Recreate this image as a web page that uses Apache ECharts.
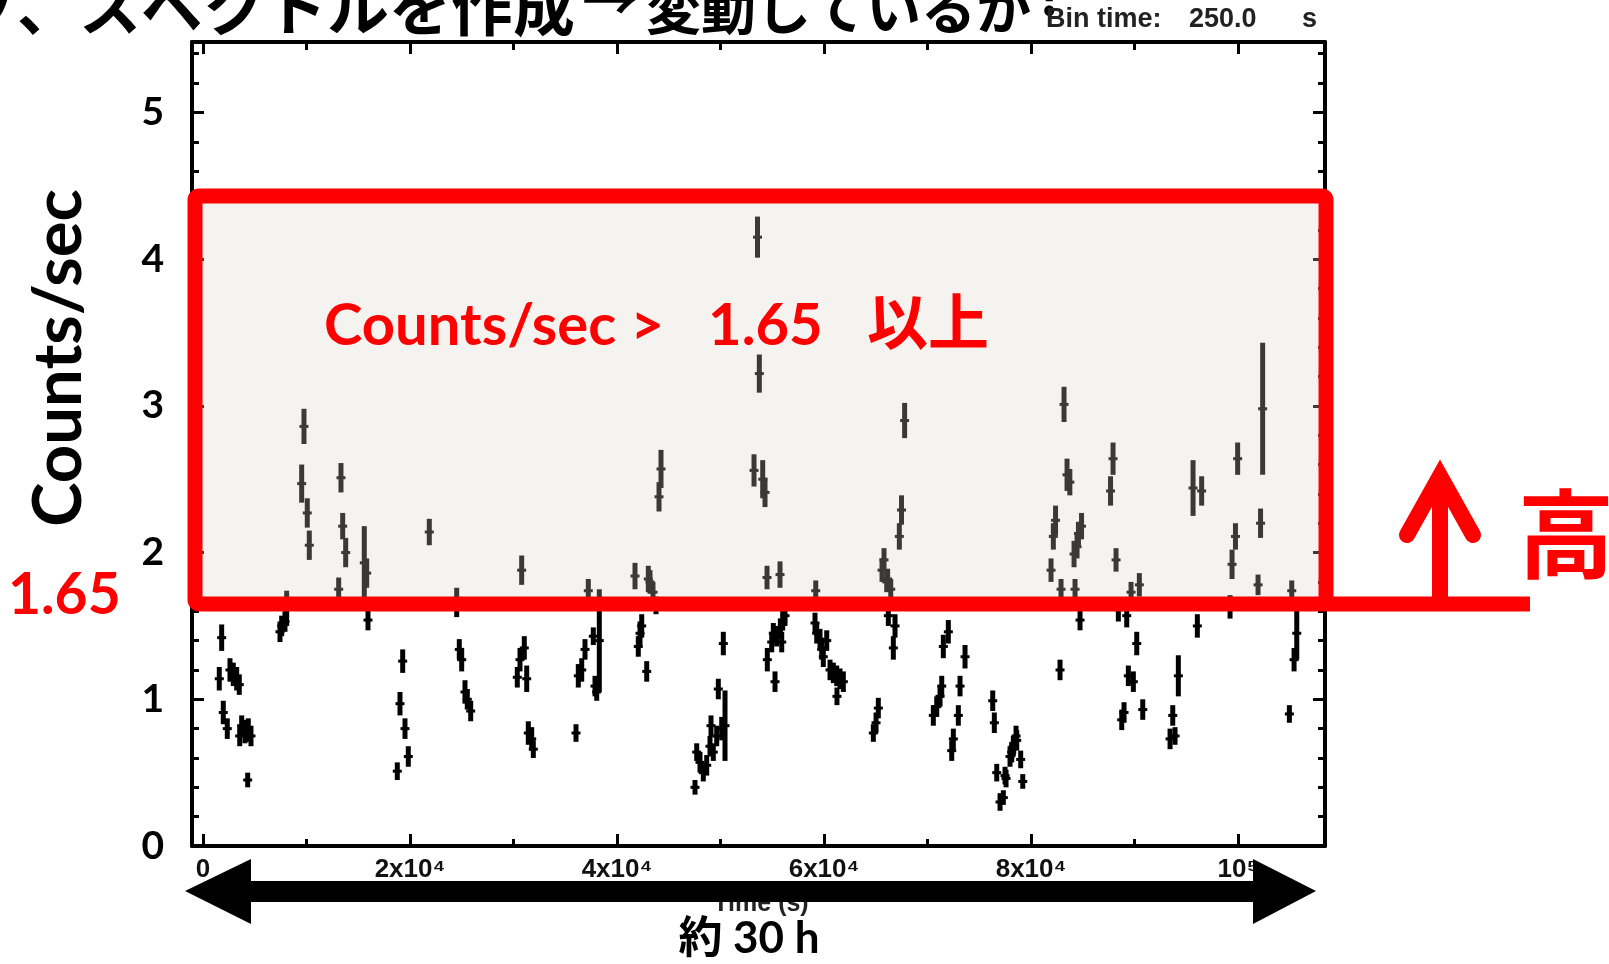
<!DOCTYPE html>
<html><head><meta charset="utf-8">
<script src="https://cdn.jsdelivr.net/npm/echarts@6/dist/echarts.min.js"></script>
<style>html,body{margin:0;padding:0;background:#fff}#c{width:1609px;height:964px}</style>
</head><body><div id="c"></div><script>
// ---- data ----
const TIME = [1575,1807,1961,2348,2609,2928,3256,3507,3550,3739,4058,4319,4377,4638,
7440,7604,7923,8087,9536,9759,10077,10271,13111,13333,13498,13788,15585,15817,15943,
18773,19034,19295,19517,19836,21865,24512,24763,24995,25314,25536,25865,
30367,30628,30790,31044,31276,31430,31759,31914,
36039,36261,36590,36908,37227,37710,37874,38039,38290,
41739,42058,42222,42387,42870,43025,43188,43478,43768,44058,44251,
47536,47700,48019,48338,48666,48985,49082,49304,49633,49788,50116,50271,50435,
53237,53575,53749,54078,54300,54493,54522,54947,55102,55266,55430,55749,55780,55913,56010,56232,
59130,59200,59294,59613,59778,59932,60261,60580,60899,61227,61250,61546,61865,
64764,65025,65246,65604,65797,66058,66145,66213,66445,66696,66860,67276,67488,67787,
70560,70889,71208,71372,71527,72010,72338,72493,72976,73140,73623,
76300,76454,76686,77005,77324,77488,77585,77971,78135,78290,78550,78618,79000,79200,
81932,82155,82368,82802,82899,83188,83478,83749,84155,84251,84445,84580,84734,84879,
87682,87923,88213,88435,88763,88985,89246,89401,89662,89884,90213,90464,90793,
93430,93691,93913,94232,95652,96068,96483,
99227,99420,99749,99962,101932,102174,102377,
104957,105188,105411,105672];
const RATE = [1.14,1.42,0.91,0.80,1.20,1.17,1.14,1.10,0.75,0.82,0.78,0.45,0.79,0.75,
1.46,1.50,1.53,1.62,2.47,2.86,2.27,2.05,1.75,2.51,2.18,2.00,1.93,1.86,1.54,
0.51,0.97,1.26,0.80,0.61,2.14,1.66,1.34,1.27,1.05,1.00,0.92,
1.15,1.27,1.88,1.35,1.14,0.77,0.73,0.66,
0.77,1.16,1.20,1.34,1.74,1.43,1.09,1.05,1.40,
1.84,1.36,1.45,1.50,1.19,1.82,1.80,1.73,1.64,2.38,2.57,
0.40,0.64,0.57,0.50,0.55,0.68,0.82,0.64,0.75,1.07,0.80,1.38,0.82,
2.56,4.15,3.22,2.50,2.41,1.83,1.27,1.39,1.45,1.12,1.43,1.85,1.48,1.39,1.54,1.57,
1.52,1.74,1.45,1.41,1.34,1.29,1.40,1.20,1.18,1.16,1.02,1.14,1.12,
0.77,0.84,0.94,1.88,1.95,1.80,1.82,1.57,1.75,1.35,1.50,2.11,2.29,2.90,
0.89,0.95,1.02,1.09,1.36,1.46,0.65,0.73,0.89,1.09,1.29,
0.99,0.84,0.50,0.30,0.33,0.48,0.46,0.61,0.64,0.68,0.75,0.72,0.59,0.44,
1.88,2.11,2.22,1.20,1.75,3.01,2.53,2.48,1.99,1.75,2.04,2.13,1.54,2.18,
2.42,2.64,1.95,1.61,0.86,0.91,1.57,1.16,1.73,1.12,1.38,1.78,0.93,
0.73,0.89,0.75,1.16,2.44,1.50,2.42,
1.63,1.92,2.11,2.64,1.78,2.20,2.98,
0.90,1.74,1.27,1.45];
const ERR = [0.08,0.09,0.08,0.07,0.08,0.08,0.08,0.07,0.07,0.07,0.08,0.05,0.08,0.07,
0.07,0.07,0.07,0.12,0.13,0.12,0.10,0.10,0.08,0.10,0.09,0.10,0.25,0.10,0.07,
0.06,0.08,0.08,0.07,0.07,0.09,0.10,0.07,0.08,0.08,0.07,0.07,
0.07,0.08,0.10,0.08,0.09,0.08,0.08,0.06,
0.06,0.08,0.08,0.07,0.08,0.06,0.07,0.06,0.35,
0.09,0.07,0.08,0.08,0.07,0.09,0.08,0.07,0.06,0.10,0.13,
0.05,0.06,0.07,0.06,0.07,0.07,0.07,0.06,0.07,0.07,0.08,0.08,0.24,
0.11,0.14,0.13,0.13,0.10,0.08,0.08,0.07,0.07,0.07,0.07,0.09,0.07,0.07,0.07,0.07,
0.07,0.07,0.07,0.07,0.07,0.07,0.07,0.07,0.07,0.07,0.06,0.07,0.07,
0.06,0.07,0.07,0.08,0.08,0.07,0.07,0.07,0.07,0.08,0.08,0.09,0.10,0.12,
0.07,0.07,0.07,0.07,0.08,0.08,0.07,0.07,0.07,0.07,0.08,
0.07,0.07,0.06,0.06,0.05,0.06,0.06,0.07,0.07,0.07,0.07,0.07,0.06,0.05,
0.08,0.09,0.10,0.07,0.07,0.12,0.11,0.09,0.09,0.07,0.08,0.08,0.07,0.09,
0.10,0.11,0.08,0.08,0.07,0.07,0.08,0.07,0.07,0.07,0.08,0.08,0.07,
0.07,0.07,0.06,0.14,0.19,0.08,0.10,
0.08,0.10,0.09,0.11,0.07,0.10,0.45,
0.06,0.07,0.08,0.18];

const X_MAJOR = [0, 20000, 40000, 60000, 80000, 100000];
const X_MAJOR_LABELS = ['0', '2x10⁴', '4x10⁴', '6x10⁴', '8x10⁴', '10⁵'];
const X_MINOR = [10000, 30000, 50000, 70000, 90000];
const Y_MAJOR = [0, 1, 2, 3, 4, 5];
const Y_MAJOR_LABELS = ['0', '1', '2', '3', '4', '5'];
const Y_MINOR = [0.2,0.4,0.6,0.8,1.2,1.4,1.6,1.8,2.2,2.4,2.6,2.8,3.2,3.4,3.6,3.8,4.2,4.4,4.6,4.8,5.2,5.4];
const THRESHOLD = 1.65;
const THRESHOLD_LABEL = '1.65';
const X_RANGE = [-1060, 108400];
const Y_RANGE = [0, 5.48];

const chart = echarts.init(document.getElementById('c'));
const AX = { color: '#000', width: 4 };

function xAx(pos, ticks, len, line, labels) {
  return {
    type: 'value', position: pos, min: X_RANGE[0], max: X_RANGE[1],
    splitLine: { show: false },
    axisLine: { show: line, onZero: false, lineStyle: AX },
    axisTick: { show: true, inside: true, length: len, customValues: ticks, lineStyle: { color: '#000', width: 3 } },
    axisLabel: labels ? {
      show: true, customValues: X_MAJOR, margin: 11, color: '#111',
      fontFamily: 'Liberation Sans', fontWeight: 'bold', fontSize: 26,
      formatter: v => X_MAJOR_LABELS[X_MAJOR.indexOf(v)]
    } : { show: false }
  };
}
function yAx(pos, ticks, len, line, labels) {
  return {
    type: 'value', position: pos, min: Y_RANGE[0], max: Y_RANGE[1],
    splitLine: { show: false },
    axisLine: { show: line, onZero: false, lineStyle: AX },
    axisTick: { show: true, inside: true, length: len, customValues: ticks, lineStyle: { color: '#000', width: 3 } },
    axisLabel: labels ? {
      show: true, customValues: Y_MAJOR, margin: 28, color: '#000',
      fontFamily: 'Lato', fontWeight: 'bold', fontSize: 39,
      formatter: v => Y_MAJOR_LABELS[Y_MAJOR.indexOf(v)]
    } : { show: false }
  };
}

const option = {
  animation: false,
  backgroundColor: '#fff',
  grid: { left: 192, right: 284, top: 42, bottom: 118, containLabel: false },
  xAxis: [
    xAx('bottom', X_MAJOR, 12, true, true),
    xAx('bottom', X_MINOR, 7, false, false),
    xAx('top', X_MAJOR, 12, true, false),
    xAx('top', X_MINOR, 8, false, false)
  ],
  yAxis: [
    yAx('left', Y_MAJOR, 12, true, true),
    yAx('left', Y_MINOR, 7, false, false),
    yAx('right', Y_MAJOR, 12, true, false),
    yAx('right', Y_MINOR, 7, false, false)
  ],
  series: [{
    type: 'custom',
    xAxisIndex: 0, yAxisIndex: 0,
    encode: { x: 0, y: 1 },
    data: TIME.map((t, i) => [t, RATE[i], ERR[i]]),
    renderItem: function (params, api) {
      const x = api.value(0), y = api.value(1), e = api.value(2);
      const top = api.coord([x, y + e]);
      const bot = api.coord([x, y - e]);
      const c = api.coord([x, y]);
      return {
        type: 'group',
        children: [
          { type: 'line', shape: { x1: top[0], y1: top[1], x2: bot[0], y2: bot[1] }, style: { stroke: '#000', lineWidth: 5 } },
          { type: 'line', shape: { x1: c[0] - 4.5, y1: c[1], x2: c[0] + 4.5, y2: c[1] }, style: { stroke: '#000', lineWidth: 3 } }
        ]
      };
    }
  }]
};
chart.setOption(option);

const thrY = chart.convertToPixel({ yAxisIndex: 0 }, THRESHOLD);
const RED = '#ff0000';
function txt(x, y, text, font, fill, align, valign, extra) {
  return {
    type: 'text', x: x, y: y, z: 120,
    style: Object.assign({ text: text, font: font, fill: fill,
      align: align, verticalAlign: valign, textAlign: align, textVerticalAlign: valign }, (extra || {}))
  };
}
const shadow = { shadowColor: 'rgba(0,0,0,0.35)', shadowBlur: 5, shadowOffsetX: 3, shadowOffsetY: 3 };

chart.setOption({
  graphic: { elements: [
    // cut-off slide title
    txt(575, 7, 'ライトカーブ、スペクトルを作成', 'bold 62px "Noto Sans CJK JP"', '#000', 'right', 'middle'),
    txt(610, 0, '→', 'bold 56px "Noto Sans CJK JP"', '#000', 'center', 'middle'),
    txt(646, 8, '変動しているか', 'bold 55px "Noto Sans CJK JP"', '#000', 'left', 'middle'),
    txt(1036, -6, '?', 'bold 55px "Noto Sans CJK JP"', '#000', 'left', 'middle'),
    // Bin time
    txt(1046, 20, 'Bin time:', 'bold 27px "Liberation Sans"', '#222', 'left', 'middle'),
    txt(1189, 20, '250.0', 'bold 27px "Liberation Sans"', '#222', 'left', 'middle'),
    txt(1302, 20, 's', 'bold 27px "Liberation Sans"', '#222', 'left', 'middle'),
    // highlight box
    { type: 'rect', z: 100, shape: { x: 195, y: 196, width: 1131, height: thrY - 196, r: 4 },
      style: { fill: 'rgba(214,210,196,0.27)', stroke: RED, lineWidth: 15 } },
    { type: 'line', z: 101, shape: { x1: 1326, y1: thrY, x2: 1530, y2: thrY },
      style: { stroke: RED, lineWidth: 15 } },
    // up arrow
    { type: 'polyline', z: 101, shape: { points: [[1440, thrY], [1440, 478]] },
      style: { stroke: RED, lineWidth: 16, fill: null } },
    { type: 'polyline', z: 101, shape: { points: [[1407, 535], [1440, 476], [1473, 535]] },
      style: { stroke: RED, lineWidth: 16, fill: null, lineCap: 'round', lineJoin: 'miter' } },
    txt(1518, 534, '高', 'bold 96px "Noto Sans CJK JP"', RED, 'left', 'middle'),
    // threshold label at left
    txt(8, 596, THRESHOLD_LABEL, 'bold 57px Lato', RED, 'left', 'middle'),
    // annotation in box
    txt(324, 326, 'Counts/sec >', 'bold 58px Lato', RED, 'left', 'middle', shadow),
    txt(708, 326, THRESHOLD_LABEL, 'bold 58px Lato', RED, 'left', 'middle', shadow),
    txt(867, 322, '以上', 'bold 61px "Noto Sans CJK JP"', RED, 'left', 'middle', shadow),
    // y axis name
    Object.assign(txt(59, 358, 'Counts/sec', 'bold 67px Lato', '#000', 'center', 'middle'), { rotation: Math.PI / 2 }),
    // x axis name (partly hidden by arrow)
    txt(761, 904, 'Time (s)', 'bold 25px "Liberation Sans"', '#222', 'center', 'middle'),
    // double arrow
    { type: 'polygon', z: 130, shape: { points: [[185, 891], [251, 859], [251, 881], [1253, 881], [1253, 859], [1316, 891],
        [1253, 924], [1253, 902], [251, 902], [251, 924]] }, style: { fill: '#000' } },
    txt(749, 939, '約 30 h', 'bold 44px Lato, "Noto Sans CJK JP"', '#000', 'center', 'middle')
  ] }
});
</script></body></html>
